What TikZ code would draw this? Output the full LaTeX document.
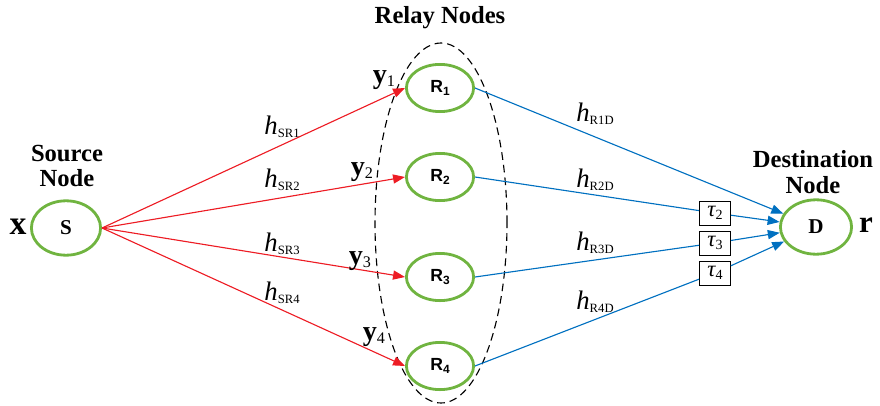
\documentclass[tikz,border=0pt]{standalone}
\usepackage{fontspec}
\setmainfont{Liberation Serif}
\setsansfont{Liberation Sans}
\usetikzlibrary{shapes.geometric, positioning, arrows.meta}
\definecolor{nodegreen}{RGB}{112, 180, 64}
\definecolor{linkred}{RGB}{237, 28, 36}
\definecolor{linkblue}{RGB}{0, 112, 192}
\newcommand{\chan}[1]{{\fontsize{19}{19}\selectfont\itshape h}\raisebox{-2pt}{\fontsize{9}{9}\selectfont #1}}
\newcommand{\rsig}[1]{{\fontsize{20}{20}\selectfont\bfseries y}\raisebox{-2pt}{\fontsize{11.5}{11.5}\selectfont #1}}
\newcommand{\dly}[1]{{\fontsize{16}{16}\selectfont\itshape τ}\raisebox{-2pt}{\fontsize{10}{10}\selectfont #1}}
\newcommand{\rname}[1]{{\fontsize{12.5}{12.5}\selectfont\sffamily\bfseries R\raisebox{-1.5pt}{\fontsize{8.5}{8.5}\selectfont #1}}}

\begin{document}
\begin{tikzpicture}[>={Triangle[length=8.5pt, width=6.5pt]}, line width=0.8pt,
    term/.style={ellipse, draw=nodegreen, line width=2pt, inner sep=0pt},
    title/.style={font=\fontsize{17.5}{20}\selectfont\bfseries, align=center},
    delaybox/.style={draw, fill=white, line width=0.6pt, inner sep=0pt, minimum width=0.775cm, minimum height=0.6cm}]
    \useasboundingbox (0,0) rectangle (22,10.125);
    % terminals
    \node[term, minimum width=1.73cm, minimum height=1.36cm, font=\fontsize{15}{15}\selectfont\bfseries] (src) at (1.65, 4.425) {S};
    \node[term, minimum width=1.78cm, minimum height=1.36cm, font=\fontsize{15}{15}\selectfont\bfseries] (dst) at (20.4, 4.45) {D};
    \node[title] (srclabel) at (1.675, 5.98) {Source\\[-2pt]Node};
    \node[title] (dstlabel) at (20.325, 5.825) {Destination\\[-2pt]Node};
    \node[font=\fontsize{24}{24}\selectfont\bfseries] (xin) at (0.45, 4.45) {x};
    \node[font=\fontsize{22}{22}\selectfont\bfseries] (rout) at (21.65, 4.5) {r};
    % relays
    \node[ellipse, draw, dash pattern=on 5.5pt off 3.5pt, line width=0.8pt, minimum width=3.3cm, minimum height=9cm] (group) at (11.025, 4.55) {};
    \node[title] (grouplabel) at (11, 9.675) {Relay Nodes};
    \node[term, minimum width=1.68cm, minimum height=1.18cm] (rly1) at (11, 7.925) {\rname{1}};
    \node[term, minimum width=1.68cm, minimum height=1.18cm] (rly2) at (11, 5.7) {\rname{2}};
    \node[term, minimum width=1.68cm, minimum height=1.18cm] (rly3) at (11, 3.2) {\rname{3}};
    \node[term, minimum width=1.68cm, minimum height=1.18cm] (rly4) at (11, 0.975) {\rname{4}};
    % delays
    \node[delaybox] (dly2) at (17.875, 4.8) {\dly{2}};
    \node[delaybox] (dly3) at (17.875, 4.05) {\dly{3}};
    \node[delaybox] (dly4) at (17.875, 3.3) {\dly{4}};
    % links
    \foreach \i in {1,...,4}
        \draw[->, linkred] (src.east) -- (rly\i.west);
    \draw[->, linkblue] (rly1.east) -- (dst);
    \foreach \i in {2,3,4}
        \draw[->, linkblue] (rly\i.east) -- (dly\i) -- (dst);
    % channel labels
    \node (hsr1) at (7.05, 6.95) {\chan{SR1}};
    \node (hsr2) at (7.05, 5.625) {\chan{SR2}};
    \node (hsr3) at (7.05, 4.025) {\chan{SR3}};
    \node (hsr4) at (7.05, 2.8) {\chan{SR4}};
    \node (hrd1) at (14.875, 7.275) {\chan{R1D}};
    \node (hrd2) at (14.875, 5.625) {\chan{R2D}};
    \node (hrd3) at (14.875, 4.05) {\chan{R3D}};
    \node (hrd4) at (14.875, 2.575) {\chan{R4D}};
    \node (sig1) at (9.6, 8.125) {\rsig{1}};
    \node (sig2) at (9.05, 5.825) {\rsig{2}};
    \node (sig3) at (9.0, 3.6) {\rsig{3}};
    \node (sig4) at (9.35, 1.7) {\rsig{4}};
\end{tikzpicture}
\end{document}
